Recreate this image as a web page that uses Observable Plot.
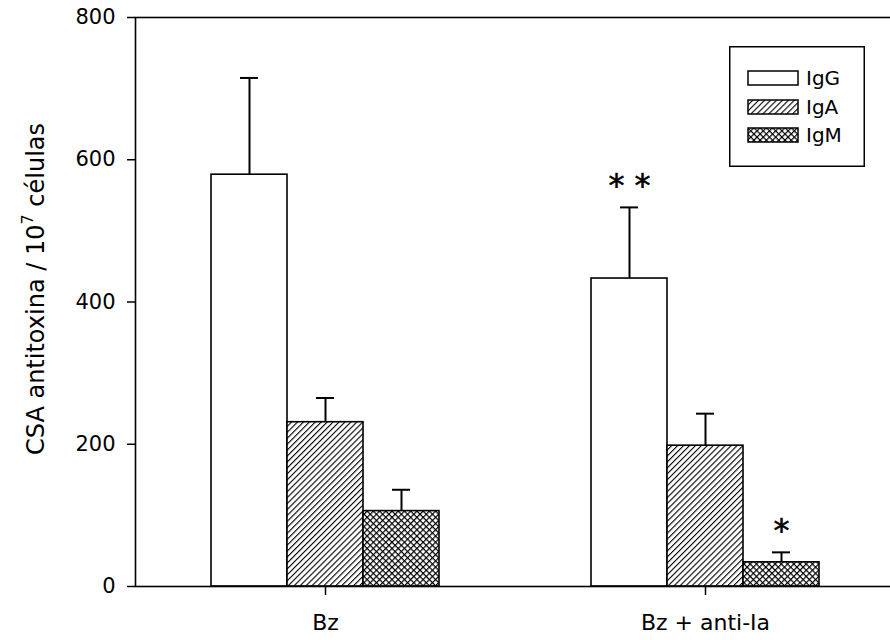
<!DOCTYPE html>
<html>
<head>
<meta charset="utf-8">
<script src="https://cdn.jsdelivr.net/npm/d3@7"></script>
<script src="https://cdn.jsdelivr.net/npm/@observablehq/plot@0.6"></script>
<style>
  html, body { margin: 0; padding: 0; background: #fff; overflow: hidden; }
  #wrap { position: relative; width: 890px; height: 640px; }
  #legend { position: absolute; left: 729px; top: 46px; }
  #defs { position: absolute; width: 0; height: 0; }
</style>
</head>
<body>
<svg id="defs" width="0" height="0">
  <defs>
    <pattern id="hatchIgA" patternUnits="userSpaceOnUse" width="4.2" height="8" patternTransform="rotate(45)">
      <rect width="4.2" height="8" fill="white"/>
      <line x1="0" y1="0" x2="0" y2="8" stroke="black" stroke-width="2.2"/>
    </pattern>
    <pattern id="hatchIgM" patternUnits="userSpaceOnUse" width="4.4" height="4.4" patternTransform="rotate(45)">
      <rect width="4.4" height="4.4" fill="white"/>
      <line x1="0" y1="0" x2="0" y2="4.4" stroke="black" stroke-width="2.4"/>
      <line x1="0" y1="0" x2="4.4" y2="0" stroke="black" stroke-width="2.4"/>
    </pattern>
  </defs>
</svg>
<div id="wrap"></div>
<script>
// ---- data ----
const groups = ["Bz", "Bz + anti-Ia"];
const isotypes = ["IgG", "IgA", "IgM"];
const bzMeans = [579, 231, 106];
const bzErrors = [136, 34, 30];
const antiMeans = [433, 198, 34];
const antiErrors = [100, 45, 14];
const bzMarks = ["", "", ""];
const antiMarks = ["* *", "", "*"];
const yTicks = [0, 200, 400, 600, 800];
const patternFills = ["white", "url(#hatchIgA)", "url(#hatchIgM)"];

const rows = [];
isotypes.forEach((iso, i) => {
  rows.push({group: groups[0], isotype: iso, mean: bzMeans[i], top: bzMeans[i] + bzErrors[i], sig: bzMarks[i]});
});
isotypes.forEach((iso, i) => {
  rows.push({group: groups[1], isotype: iso, mean: antiMeans[i], top: antiMeans[i] + antiErrors[i], sig: antiMarks[i]});
});

const chart = Plot.plot({
  width: 890,
  height: 640,
  marginLeft: 135,
  marginRight: -5,
  marginTop: 17,
  marginBottom: 54,
  style: {fontFamily: "DejaVu Sans", fontSize: "21px", color: "black", background: "white", overflow: "visible"},
  fx: {domain: groups, padding: 0, label: null, axis: null},
  x: {domain: isotypes, paddingInner: 0, paddingOuter: 1, axis: null},
  y: {domain: [0, 800], label: null, axis: null},
  color: {domain: isotypes, range: patternFills},
  marks: [
    Plot.barY(rows, {fx: "group", x: "isotype", y: "mean", fill: "isotype", stroke: "black", strokeWidth: 1.6}),
    Plot.ruleX(rows, {fx: "group", x: "isotype", y1: "mean", y2: "top", stroke: "black", strokeWidth: 2}),
    Plot.tickY(rows, {fx: "group", x: "isotype", y: "top", insetLeft: 29, insetRight: 29, stroke: "black", strokeWidth: 2}),
    Plot.text(rows, {fx: "group", x: "isotype", y: "top", text: "sig", dy: -22, fontSize: 32, fill: "black", stroke: "black", strokeWidth: 0.6}),
    Plot.axisY({ticks: yTicks, tickSize: 8, tickPadding: 12, fontSize: 21, label: null, strokeWidth: 1.5}),
    Plot.axisFx({anchor: "bottom", tickSize: 9, tickPadding: 19, fontSize: 22, label: null, strokeWidth: 1.5}),
    Plot.frame({facet: "super", stroke: "black", strokeWidth: 1.6})
  ]
});

document.getElementById("wrap").appendChild(chart);

// y-axis title with superscript
const svg = d3.select(chart);
const ylab = svg.append("text")
  .attr("transform", "translate(44,289) rotate(-90)")
  .attr("text-anchor", "middle")
  .attr("font-family", "DejaVu Sans")
  .attr("font-size", 24)
  .attr("fill", "black");
ylab.append("tspan").text("CSA antitoxina / 10");
ylab.append("tspan").attr("font-size", 16).attr("dy", "-0.7em").text("7");
ylab.append("tspan").attr("dy", "0.47em").text(" células");

// legend
const legend = d3.select("#wrap").append("svg")
  .attr("id", "legend")
  .attr("width", 136).attr("height", 121)
  .attr("font-family", "DejaVu Sans");
legend.append("rect").attr("x", 0.75).attr("y", 0.75).attr("width", 134.5).attr("height", 119.5)
  .attr("fill", "white").attr("stroke", "black").attr("stroke-width", 1.5);
isotypes.forEach((iso, i) => {
  const y = [25, 54, 82][i];
  legend.append("rect").attr("x", 19).attr("y", y).attr("width", 50).attr("height", 14)
    .attr("fill", patternFills[i]).attr("stroke", "black").attr("stroke-width", 1.5);
  legend.append("text").attr("x", 77).attr("y", y + 7).attr("dy", "0.36em")
    .attr("font-size", 20).attr("fill", "black").text(iso);
});
</script>
</body>
</html>
